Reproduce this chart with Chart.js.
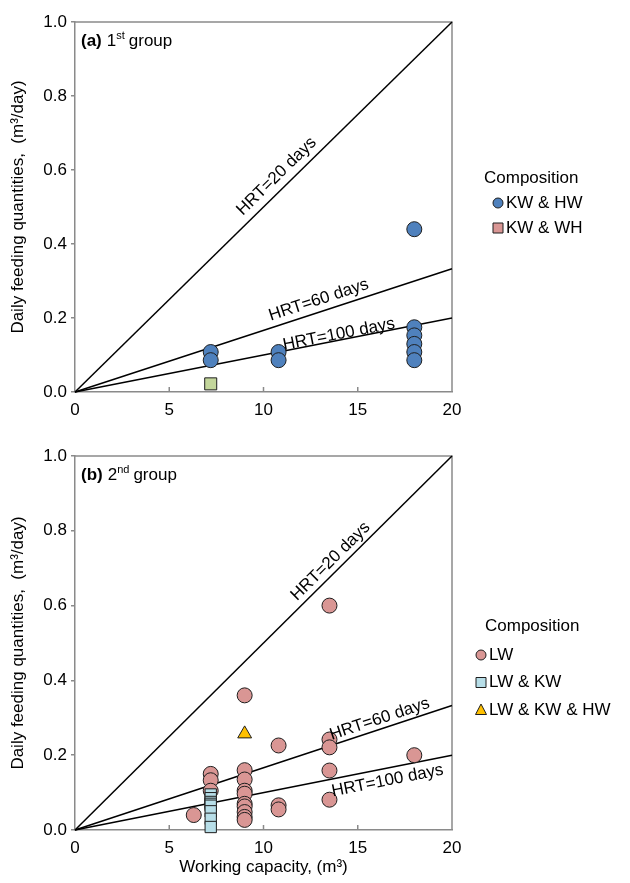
<!DOCTYPE html>
<html>
<head>
<meta charset="utf-8">
<script src="https://cdn.jsdelivr.net/npm/chart.js@4.4.0/dist/chart.umd.min.js"></script>
<style>
  html, body { margin: 0; padding: 0; background: #fff; }
  .panel { position: relative; width: 630px; }
</style>
</head>
<body>
<div class="panel" style="height:440px"><canvas id="chartA"></canvas></div>
<div class="panel" style="height:443px"><canvas id="chartB"></canvas></div>
<script>
// ---- data ----
const capTicks = [0, 5, 10, 15, 20];
const qtyTicks = [0, 0.2, 0.4, 0.6, 0.8, 1.0];
const hrtLabels = ['HRT=20 days', 'HRT=60 days', 'HRT=100 days'];
const hrtEndX = 20;                 // working capacity at line end
const hrtEndY = [1.0, 0.333, 0.2];  // feeding at 20 m3

// (a) 1st group
const g1KwHwX = [7.2, 7.2, 10.8, 10.8, 18, 18, 18, 18, 18, 18];
const g1KwHwY = [0.108, 0.086, 0.108, 0.086, 0.44, 0.175, 0.153, 0.13, 0.108, 0.086];
const g1KwWhX = [7.2];
const g1KwWhY = [0.022];

// (b) 2nd group
const g2LwX = [6.3, 7.2, 7.2, 7.2, 9, 9, 9, 9, 9, 9, 9, 9, 9, 9,
               10.8, 10.8, 10.8, 13.5, 13.5, 13.5, 13.5, 13.5, 18];
const g2LwY = [0.04, 0.15, 0.133, 0.105, 0.36, 0.16, 0.135, 0.105, 0.097, 0.07, 0.063, 0.048, 0.035, 0.027,
               0.226, 0.066, 0.055, 0.6, 0.242, 0.221, 0.159, 0.081, 0.2];
const g2LwKwX = [7.2, 7.2, 7.2, 7.2, 7.2, 7.2, 7.2, 7.2];
const g2LwKwY = [0.095, 0.085, 0.075, 0.07, 0.065, 0.05, 0.03, 0.008];
const g2LwKwHwX = [9.0];
const g2LwKwHwY = [0.257];

const FONT = "'Liberation Sans', Arial, sans-serif";
const EDGE = '#1e1e1e';
const AXIS = '#8a8a8a';

const pts = (xs, ys) => xs.map((x, i) => ({ x: x, y: ys[i] }));

function scatterSet(label, xs, ys, style, radius, fill) {
  return {
    label: label, data: pts(xs, ys), pointStyle: style, pointRadius: radius,
    pointHoverRadius: radius, backgroundColor: fill, borderColor: EDGE,
    borderWidth: 1, showLine: false, clip: false
  };
}

function hrtSets() {
  return hrtLabels.map((l, i) => ({
    label: l, data: [{ x: 0, y: 0 }, { x: hrtEndX, y: hrtEndY[i] }],
    showLine: true, pointRadius: 0, borderColor: '#000', borderWidth: 1.5, clip: false
  }));
}

function drawMarker(ctx, style, x, y, r, fill) {
  ctx.beginPath();
  if (style === 'circle') ctx.arc(x, y, r, 0, Math.PI * 2);
  else if (style === 'rect') ctx.rect(x - r, y - r, r * 2, r * 2);
  else { ctx.moveTo(x, y - r - 1); ctx.lineTo(x + r + 0.5, y + r - 0.5); ctx.lineTo(x - r - 0.5, y + r - 0.5); ctx.closePath(); }
  ctx.fillStyle = fill; ctx.fill();
  ctx.lineWidth = 1; ctx.strokeStyle = EDGE; ctx.stroke();
}

const decoPlugin = {
  id: 'deco',
  beforeDatasetsDraw(chart) {
    const { ctx, chartArea: a, scales: { x } } = chart;
    ctx.save();
    ctx.strokeStyle = AXIS; ctx.lineWidth = 1.5;
    ctx.beginPath();
    ctx.moveTo(a.left, a.top); ctx.lineTo(a.right, a.top); ctx.lineTo(a.right, a.bottom);
    capTicks.slice(1, -1).forEach(v => {
      const px = x.getPixelForValue(v);
      ctx.moveTo(px, a.bottom); ctx.lineTo(px, a.bottom - 5);
    });
    ctx.stroke();
    ctx.restore();
  },
  afterDatasetsDraw(chart, args, opts) {
    const { ctx, scales: { x, y } } = chart;
    ctx.save();
    ctx.fillStyle = '#000';
    // line labels
    ctx.font = '17px ' + FONT;
    opts.lineTags.forEach(t => {
      const endY = hrtEndY[t.i];
      const x0 = x.getPixelForValue(0), y0 = y.getPixelForValue(0);
      const x1 = x.getPixelForValue(hrtEndX), y1 = y.getPixelForValue(endY);
      const ang = Math.atan2(y1 - y0, x1 - x0);
      const px = x.getPixelForValue(t.x), py = y.getPixelForValue(t.x * endY / hrtEndX);
      ctx.save();
      ctx.translate(px, py);
      ctx.rotate(ang);
      ctx.textAlign = 'left';
      if (t.below) { ctx.textBaseline = 'top'; ctx.fillText(hrtLabels[t.i], 0, t.off); }
      else { ctx.textBaseline = 'alphabetic'; ctx.fillText(hrtLabels[t.i], 0, -t.off); }
      ctx.restore();
    });
    // panel tag
    const p = opts.tag;
    ctx.textBaseline = 'alphabetic'; ctx.textAlign = 'left';
    let cx = p.x;
    ctx.font = 'bold 17px ' + FONT; ctx.fillText(p.letter, cx, p.y); cx += ctx.measureText(p.letter).width + 5;
    ctx.font = '17px ' + FONT; ctx.fillText(p.num, cx, p.y); cx += ctx.measureText(p.num).width;
    ctx.font = '11px ' + FONT; ctx.fillText(p.sup, cx, p.y - 7); cx += ctx.measureText(p.sup).width + 4;
    ctx.font = '17px ' + FONT; ctx.fillText('group', cx, p.y);
    // legend
    const lg = opts.legend;
    ctx.font = '17px ' + FONT; ctx.textBaseline = 'middle';
    ctx.fillText('Composition', lg.titleX, lg.titleY);
    lg.items.forEach((it, k) => {
      const yy = lg.firstY + k * lg.step;
      drawMarker(ctx, it.style, lg.markX, yy, 5, it.fill);
      ctx.fillStyle = '#000';
      ctx.fillText(it.text, lg.markX + 8, yy);
    });
    ctx.restore();
  }
};

function axes(xHeight, showXTitle) {
  return {
    x: {
      type: 'linear', min: 0, max: 20,
      afterBuildTicks: s => { s.ticks = capTicks.map(v => ({ value: v })); },
      ticks: { padding: 8, color: '#000', font: { family: FONT, size: 17 } },
      grid: { display: false, drawTicks: false },
      border: { color: AXIS, width: 1.5 },
      title: { display: showXTitle, text: 'Working capacity, (m³)', color: '#000',
               font: { family: FONT, size: 17 }, padding: { top: 0, bottom: 5 } },
      afterFit: s => { s.height = xHeight; }
    },
    y: {
      type: 'linear', min: 0, max: 1,
      afterBuildTicks: s => { s.ticks = qtyTicks.map(v => ({ value: v })); },
      ticks: { padding: 4, color: '#000', font: { family: FONT, size: 17 }, callback: v => v.toFixed(1) },
      grid: { display: true, drawOnChartArea: false, drawTicks: true, tickLength: 4, color: AXIS, lineWidth: 1.5 },
      border: { color: AXIS, width: 1.5 },
      title: { display: true, text: 'Daily feeding quantities,  (m³/day)', color: '#000',
               font: { family: FONT, size: 17 }, padding: { top: 8, bottom: 0 } },
      afterFit: s => { s.width = 75; }
    }
  };
}

function makeChart(id, datasets, padTop, xHeight, showXTitle, deco) {
  return new Chart(document.getElementById(id), {
    type: 'scatter',
    data: { datasets: datasets },
    options: {
      responsive: true, maintainAspectRatio: false, animation: false,
      layout: { padding: { top: padTop, right: 178, bottom: 0, left: 0 } },
      scales: axes(xHeight, showXTitle),
      plugins: { legend: { display: false }, tooltip: { enabled: false }, deco: deco }
    },
    plugins: [decoPlugin]
  });
}

makeChart('chartA', [
  scatterSet('KW & HW', g1KwHwX, g1KwHwY, 'circle', 7.5, '#4f81bd'),
  scatterSet('KW & WH', g1KwWhX, g1KwWhY, 'rect', 8.5, '#c3d69b'),
  ...hrtSets()
], 22, 48, false, {
  lineTags: [{ i: 0, x: 9.2, off: 8 }, { i: 1, x: 10.5, off: 7 }, { i: 2, x: 11.1, off: 1 }],
  tag: { x: 81, y: 46, letter: '(a)', num: '1', sup: 'st' },
  legend: { titleX: 484, titleY: 178, markX: 498, firstY: 203, step: 25,
            items: [{ text: 'KW & HW', style: 'circle', fill: '#4f81bd' },
                    { text: 'KW & WH', style: 'rect', fill: '#d99694' }] }
});

makeChart('chartB', [
  scatterSet('LW & KW & HW', g2LwKwHwX, g2LwKwHwY, 'triangle', 8, '#ffc000'),
  scatterSet('LW & KW', g2LwKwX, g2LwKwY, 'rect', 8, '#b7dee8'),
  scatterSet('LW', g2LwX, g2LwY, 'circle', 7.5, '#d99694'),
  ...hrtSets()
], 16, 53, true, {
  lineTags: [{ i: 0, x: 12.0, off: 6 }, { i: 1, x: 13.7, off: 5 }, { i: 2, x: 13.5, off: 4, below: true }],
  tag: { x: 81, y: 40, letter: '(b)', num: '2', sup: 'nd' },
  legend: { titleX: 485, titleY: 186, markX: 481, firstY: 215, step: 27.5,
            items: [{ text: 'LW', style: 'circle', fill: '#d99694' },
                    { text: 'LW & KW', style: 'rect', fill: '#b7dee8' },
                    { text: 'LW & KW & HW', style: 'triangle', fill: '#ffc000' }] }
});
</script>
</body>
</html>
